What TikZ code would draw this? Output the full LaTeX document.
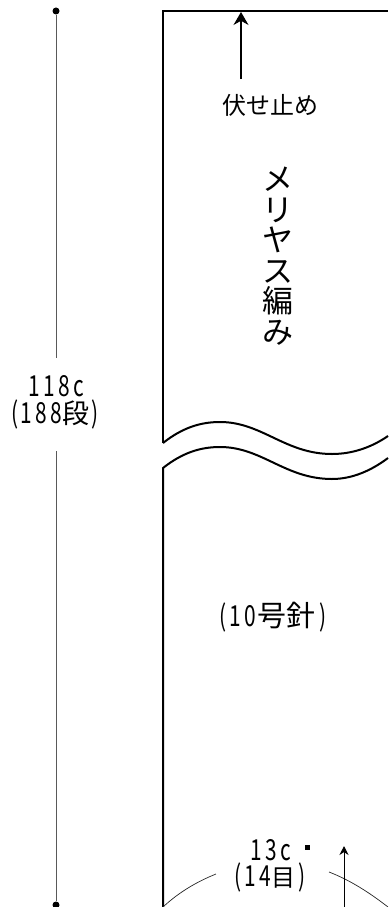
\documentclass[tikz,border=0pt]{standalone}
\usepackage{fontspec}
\setmainfont{Noto Sans CJK JP}
\newfontfamily\narrowf[FakeStretch=0.72,LetterSpace=12]{Noto Sans CJK JP}
\usetikzlibrary{arrows.meta}
\tikzset{
  outline/.style={line width=2pt,black},
  thin line/.style={line width=0.7pt,black!85},
  dimline/.style={line width=0.9pt,black!65},
  labeltext/.style={inner sep=0pt,text=black},
  numtext/.style={labeltext,font=\fontsize{29}{29}\selectfont\narrowf},
  dot/.style={circle,fill=black,inner sep=0pt,minimum size=7pt},
  pointer/.style={line width=1.2pt,-{Stealth[length=13pt,width=15pt]}},
  smallpointer/.style={line width=1pt,-{Stealth[length=9pt,width=9pt]}},
}
\newcommand{\kj}[2]{{\kern1pt\fontsize{#1}{#1}\selectfont\normalfont #2\kern1pt}}
\begin{document}
\begin{tikzpicture}[x=1pt,y=-1pt]
\useasboundingbox (0,0) rectangle (388,907);
% outline
\draw[outline] (163,443) -- (163,11) -- (388,11);
\draw[outline] (163,443) .. controls (182,428) and (200,422) .. (220,422)
   .. controls (262,422) and (285,454) .. (332,454)
   .. controls (353,454) and (372,447) .. (388,436);
\draw[outline] (163,907) -- (163,468) .. controls (182,453) and (200,447) .. (220,447)
   .. controls (262,447) and (285,479) .. (332,479)
   .. controls (353,479) and (372,470) .. (388,458);
% dimension
\node[dot] (top) at (56,11) {};
\node[dot] (bot) at (56,905) {};
\node[numtext] (total) at (56,386) {118c};
\node[numtext] (rows) at (55,414) {(\kern2pt 188\kj{27}{段}\kern1pt)};
\coordinate (tgap) at (56,358);
\coordinate (bgap) at (56,451);
\draw[dimline] (top) -- (tgap);
\draw[dimline] (bgap) -- (bot);
% top label
\node[labeltext,font=\fontsize{24}{24}\selectfont] (bo) at (270,105) {伏せ止め};
\coordinate (boStart) at (241,79);
\coordinate (boEnd) at (241,12);
\draw[pointer] (boStart) -- (boEnd);
% vertical
\node[labeltext,align=center,font=\fontsize{31}{30.5}\selectfont] (st) at (278,256) {メ\\リ\\ヤ\\ス\\編\\み};
\node[numtext] (needle) at (273,617) {(\kern3pt 10\kj{29}{号針}\kern3pt)};
% bottom
\node[numtext] (w) at (271,850) {13c};
\node[numtext] (st2) at (270,877) {(\kern3pt 14\kj{24}{目}\kern2pt)};
\node[fill=black,inner sep=0pt,minimum size=5pt] (sq) at (307,847) {};
\coordinate (al) at (163,907);
\coordinate (alE) at (216,874);
\coordinate (ar) at (329,872);
\coordinate (arE) at (388,907);
\draw[thin line] (al) .. controls (178,893) and (196,882) .. (alE);
\draw[thin line] (ar) .. controls (350,880) and (370,893) .. (arE);
\coordinate (upS) at (344,907);
\coordinate (upE) at (344,846);
\draw[smallpointer] (upS) -- (upE);
\end{tikzpicture}
\end{document}
